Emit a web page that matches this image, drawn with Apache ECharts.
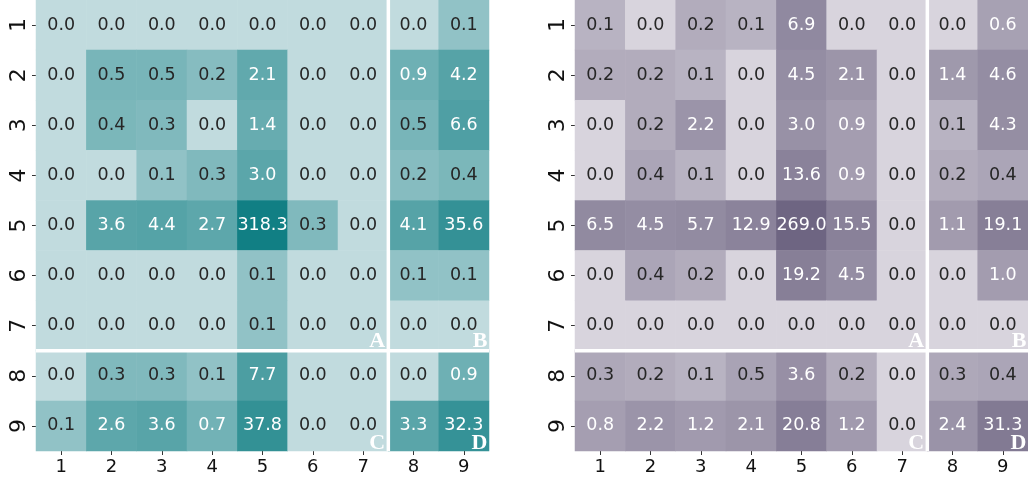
<!DOCTYPE html>
<html>
<head>
<meta charset="utf-8">
<script src="https://cdn.jsdelivr.net/npm/echarts@6/dist/echarts.min.js"></script>
<style>
  body { margin: 0; background: #fff; }
  #main { width: 1028px; height: 481px; }
</style>
</head>
<body>
<div id="main"></div>
<script>
// axis labels
var xLabels = ['1', '2', '3', '4', '5', '6', '7', '8', '9'];
var yLabels = ['1', '2', '3', '4', '5', '6', '7', '8', '9'];

// left matrix (teal), rows top to bottom
var tealValues = [
    [0.0, 0.0, 0.0, 0.0, 0.0, 0.0, 0.0, 0.0, 0.1],
    [0.0, 0.5, 0.5, 0.2, 2.1, 0.0, 0.0, 0.9, 4.2],
    [0.0, 0.4, 0.3, 0.0, 1.4, 0.0, 0.0, 0.5, 6.6],
    [0.0, 0.0, 0.1, 0.3, 3.0, 0.0, 0.0, 0.2, 0.4],
    [0.0, 3.6, 4.4, 2.7, 318.3, 0.3, 0.0, 4.1, 35.6],
    [0.0, 0.0, 0.0, 0.0, 0.1, 0.0, 0.0, 0.1, 0.1],
    [0.0, 0.0, 0.0, 0.0, 0.1, 0.0, 0.0, 0.0, 0.0],
    [0.0, 0.3, 0.3, 0.1, 7.7, 0.0, 0.0, 0.0, 0.9],
    [0.1, 2.6, 3.6, 0.7, 37.8, 0.0, 0.0, 3.3, 32.3]
];

// right matrix (purple)
var purpleValues = [
    [0.1, 0.0, 0.2, 0.1, 6.9, 0.0, 0.0, 0.0, 0.6],
    [0.2, 0.2, 0.1, 0.0, 4.5, 2.1, 0.0, 1.4, 4.6],
    [0.0, 0.2, 2.2, 0.0, 3.0, 0.9, 0.0, 0.1, 4.3],
    [0.0, 0.4, 0.1, 0.0, 13.6, 0.9, 0.0, 0.2, 0.4],
    [6.5, 4.5, 5.7, 12.9, 269.0, 15.5, 0.0, 1.1, 19.1],
    [0.0, 0.4, 0.2, 0.0, 19.2, 4.5, 0.0, 0.0, 1.0],
    [0.0, 0.0, 0.0, 0.0, 0.0, 0.0, 0.0, 0.0, 0.0],
    [0.3, 0.2, 0.1, 0.5, 3.6, 0.2, 0.0, 0.3, 0.4],
    [0.8, 2.2, 1.2, 2.1, 20.8, 1.2, 0.0, 2.4, 31.3]
];

var quadrantTags = ['A', 'B', 'C', 'D'];

var FONT = 'DejaVu Sans';
var splitAfter = 6; // white line after 7th row / column

// log colour scale, values below vmin clip to the light end
function logPos(v, vmin, vmax) {
    if (v <= vmin) return 0;
    var t = (Math.log10(v) - Math.log10(vmin)) / (Math.log10(vmax) - Math.log10(vmin));
    return Math.min(1, t);
}

function buildData(rows, vmin) {
    var vmax = Math.max.apply(null, rows.map(function (r) { return Math.max.apply(null, r) }));
    var out = [];
    rows.forEach(function (row, r) {
        row.forEach(function (v, c) {
            out.push([c, r, logPos(v, vmin, vmax), v]);
        });
    });
    return out;
}

function cellLabel(p) {
    var raw = p.value[3];
    return (raw > 0.55 ? '{w|' : '{d|') + raw.toFixed(1) + '}';
}

function axesFor(i) {
    return {
        x: {
            type: 'category', gridIndex: i, data: xLabels, position: 'bottom',
            axisLine: { show: false },
            axisTick: { show: true, alignWithLabel: true, length: 4, lineStyle: { color: '#333', width: 1 } },
            axisLabel: { fontSize: 18, fontFamily: FONT, color: '#111', margin: 7 },
            splitLine: { show: false }
        },
        y: {
            type: 'category', gridIndex: i, data: yLabels, inverse: true,
            axisLine: { show: false },
            axisTick: { show: true, alignWithLabel: true, length: 4, lineStyle: { color: '#333', width: 1 } },
            axisLabel: { fontSize: 22, fontFamily: FONT, color: '#111', rotate: 90, margin: 6 },
            splitLine: { show: false }
        }
    };
}

function heatSeries(i, data) {
    return {
        type: 'heatmap',
        xAxisIndex: i,
        yAxisIndex: i,
        data: data,
        itemStyle: { borderWidth: 0 },
        emphasis: { disabled: true },
        label: {
            show: true,
            formatter: cellLabel,
            rich: {
                w: { color: '#ffffff', fontSize: 17.5, fontFamily: FONT },
                d: { color: '#262626', fontSize: 17.5, fontFamily: FONT }
            }
        }
    };
}

var myChart = echarts.init(document.getElementById('main'), null, { renderer: 'canvas' });

var a0 = axesFor(0), a1 = axesFor(1);
var option = {
    animation: false,
    backgroundColor: '#ffffff',
    grid: [
        { left: 36, top: 0, width: 453, height: 451 },
        { left: 575, top: 0, width: 453, height: 451 }
    ],
    xAxis: [a0.x, a1.x],
    yAxis: [a0.y, a1.y],
    visualMap: [
        { type: 'continuous', show: false, seriesIndex: 0, dimension: 2, min: 0, max: 1,
          inRange: { color: ['#c1dbde', '#117f84'] } },
        { type: 'continuous', show: false, seriesIndex: 1, dimension: 2, min: 0, max: 1,
          inRange: { color: ['#d8d4dd', '#6e6582'] } }
    ],
    series: [
        heatSeries(0, buildData(tealValues, 0.005)),
        heatSeries(1, buildData(purpleValues, 0.0034))
    ]
};
myChart.setOption(option);

// white split lines and corner letters, placed from the axes
var graphics = [];
[0, 1].forEach(function (g) {
    var p0 = myChart.convertToPixel({ gridIndex: g }, [0, 0]);
    var p1 = myChart.convertToPixel({ gridIndex: g }, [1, 1]);
    var half = [(p1[0] - p0[0]) / 2, (p1[1] - p0[1]) / 2];
    var pL = myChart.convertToPixel({ gridIndex: g }, [8, 8]);
    var ps = myChart.convertToPixel({ gridIndex: g }, [splitAfter, splitAfter]);
    var left = p0[0] - half[0], top = p0[1] - half[1];
    var right = pL[0] + half[0], bottom = pL[1] + half[1];
    var vx = ps[0] + half[0], hy = ps[1] + half[1];
    var lw = 3.5;

    graphics.push({ type: 'line', shape: { x1: vx, y1: top, x2: vx, y2: bottom },
        style: { stroke: '#fff', lineWidth: lw }, z: 10 });
    graphics.push({ type: 'line', shape: { x1: left, y1: hy, x2: right, y2: hy },
        style: { stroke: '#fff', lineWidth: lw }, z: 10 });

    var corners = [[vx - lw / 2, hy - lw / 2], [right, hy - lw / 2], [vx - lw / 2, bottom], [right, bottom]];
    corners.forEach(function (c, k) {
        graphics.push({
            type: 'text', z: 11,
            x: c[0] - 1.5, y: c[1] + 3,
            style: {
                text: quadrantTags[k], fill: '#fff',
                font: 'bold 22px "Liberation Serif"',
                align: 'right', verticalAlign: 'bottom'
            }
        });
    });
});
myChart.setOption({ graphic: graphics });
</script>
</body>
</html>
